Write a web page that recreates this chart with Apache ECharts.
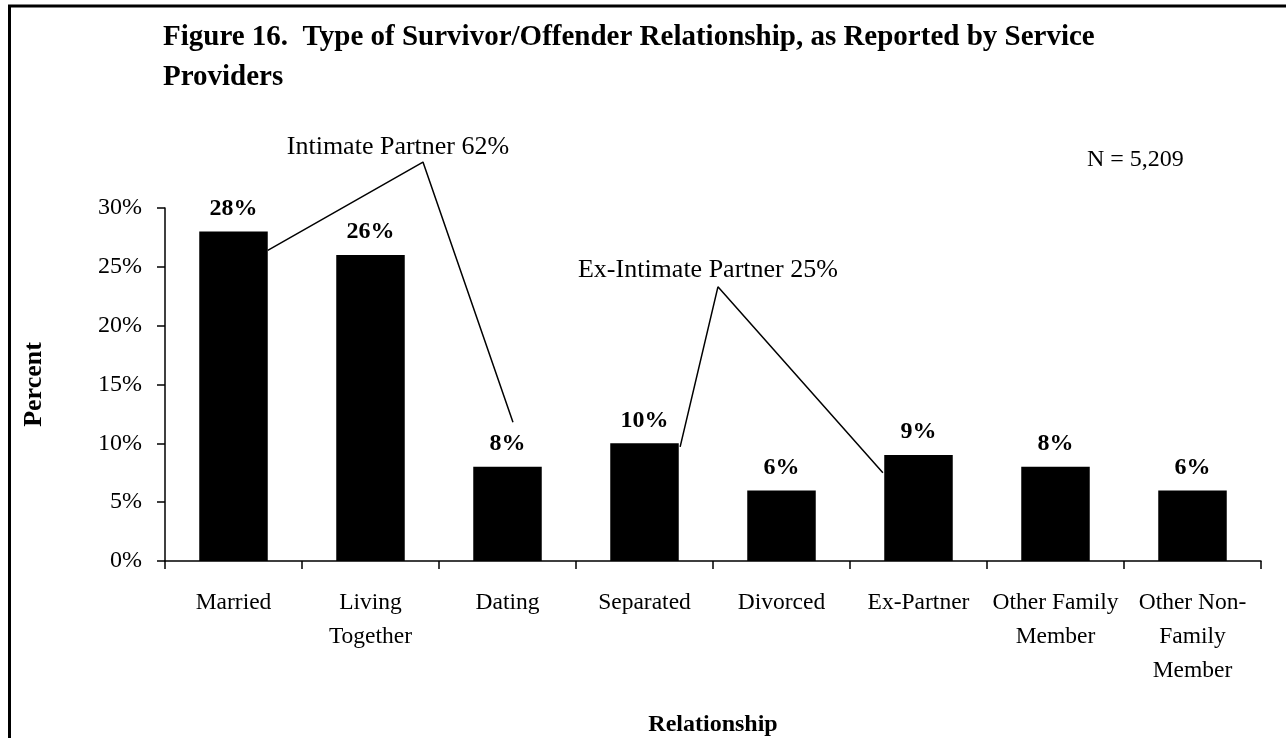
<!DOCTYPE html>
<html>
<head>
<meta charset="utf-8">
<script src="https://cdn.jsdelivr.net/npm/echarts@6/dist/echarts.min.js"></script>
<style>
  html, body { margin: 0; padding: 0; background: #fff; }
  #chart { width: 1286px; height: 738px; }
</style>
</head>
<body>
<div id="chart"></div>
<script>
// Relationship categories and the share of survivors in each
const categories = ['Married', 'Living\nTogether', 'Dating', 'Separated', 'Divorced', 'Ex-Partner', 'Other Family\nMember', 'Other Non-\nFamily\nMember'];
const percents = [28, 26, 8, 10, 6, 9, 8, 6];

// Percent axis
const yMin = 0;
const yMax = 30;
const yStep = 5;

// Bracket annotations, in [category position, percent] units; the middle point is the apex
const intimateLeader = [[0.75, 26.4], [1.883, 33.9], [2.54, 11.8]];
const exIntimateLeader = [[3.76, 9.7], [4.036, 23.3], [5.24, 7.5]];
const intimateText = 'Intimate Partner 62%';
const exIntimateText = 'Ex-Intimate Partner 25%';

const titleText = 'Figure 16.  Type of Survivor/Offender Relationship, as Reported by Service\nProviders';
const sampleText = 'N = 5,209';

const SERIF = '"Liberation Serif", "Times New Roman", Times, serif';

function leaderSeries(points) {
  return {
    type: 'line',
    xAxisIndex: 1,
    yAxisIndex: 0,
    clip: false,
    silent: true,
    symbol: 'none',
    lineStyle: { color: '#000', width: 1.5 },
    data: points,
    z: 5
  };
}

const chart = echarts.init(document.getElementById('chart'), null, { renderer: 'canvas' });

const frame = {
  type: 'rect',
  shape: { x: 9.5, y: 6, width: 2000, height: 2000 },
  style: { fill: 'none', stroke: '#000', lineWidth: 3 },
  silent: true,
  z: -1
};
const sampleSize = {
  type: 'text',
  left: 1087,
  top: 148,
  style: { text: sampleText, font: '24px ' + SERIF, fill: '#000' }
};

chart.setOption({
  backgroundColor: '#fff',
  animation: false,
  title: {
    text: titleText,
    left: 158,
    top: 13,
    textStyle: {
      fontFamily: SERIF,
      fontWeight: 'bold',
      fontSize: 29,
      lineHeight: 40,
      color: '#000'
    }
  },
  graphic: [frame, sampleSize],
  grid: {
    left: 165,
    right: 25,
    top: 208,
    bottom: 170,
    containLabel: false
  },
  xAxis: [
    {
      type: 'category',
      data: categories,
      name: 'Relationship',
      nameLocation: 'middle',
      nameGap: 152,
      nameTextStyle: { fontFamily: SERIF, fontWeight: 'bold', fontSize: 24, color: '#000' },
      axisLine: { lineStyle: { color: '#000', width: 1.5 } },
      axisTick: { show: true, length: 8, lineStyle: { color: '#000', width: 1.5 } },
      axisLabel: {
        interval: 0,
        margin: 25,
        fontFamily: SERIF,
        fontSize: 23.5,
        lineHeight: 34,
        color: '#000',
        align: 'center'
      },
      splitLine: { show: false }
    },
    {
      type: 'value',
      min: 0,
      max: categories.length,
      show: false
    }
  ],
  yAxis: {
    type: 'value',
    min: yMin,
    max: yMax,
    interval: yStep,
    name: 'Percent',
    nameLocation: 'middle',
    nameRotate: 90,
    nameGap: 118,
    nameTextStyle: { fontFamily: SERIF, fontWeight: 'bold', fontSize: 26, color: '#000' },
    axisLine: { show: true, lineStyle: { color: '#000', width: 1.5 } },
    axisTick: { show: true, length: 8, lineStyle: { color: '#000', width: 1.5 } },
    axisLabel: {
      formatter: '{value}%',
      margin: 23,
      fontFamily: SERIF,
      fontSize: 24,
      color: '#000'
    },
    splitLine: { show: false }
  },
  series: [
    {
      type: 'bar',
      data: percents,
      barWidth: '50%',
      itemStyle: { color: '#000' },
      label: {
        show: true,
        position: 'top',
        distance: 11,
        formatter: '{c}%',
        fontFamily: SERIF,
        fontWeight: 'bold',
        fontSize: 24,
        color: '#000'
      },
      z: 2
    },
    leaderSeries(intimateLeader),
    leaderSeries(exIntimateLeader)
  ]
});

// Bracket captions sit just above each apex
function caption(points, text, dx, dy) {
  const p = chart.convertToPixel({ xAxisIndex: 1, yAxisIndex: 0 }, points[1]);
  return {
    type: 'text',
    x: p[0] + dx,
    y: p[1] + dy,
    style: {
      text: text,
      font: '26px ' + SERIF,
      fill: '#000',
      align: 'center',
      verticalAlign: 'middle'
    },
    z: 6
  };
}

chart.setOption({
  graphic: [
    frame,
    sampleSize,
    caption(intimateLeader, intimateText, -25, -15),
    caption(exIntimateLeader, exIntimateText, -10, -17)
  ]
});
</script>
</body>
</html>
